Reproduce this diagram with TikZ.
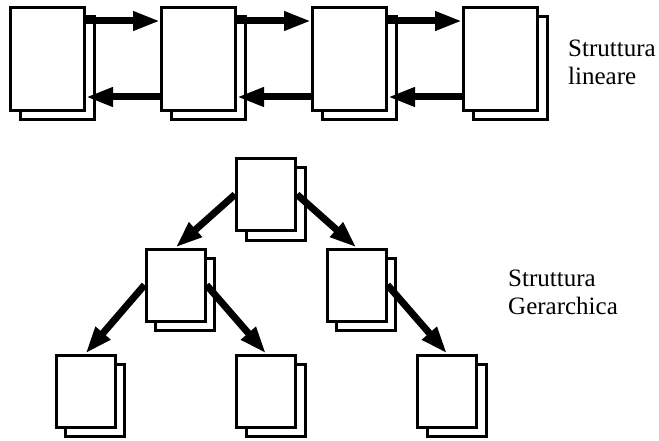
\documentclass[tikz,border=0pt]{standalone}
\usepackage{fontspec}
\setmainfont{Liberation Serif}
\usetikzlibrary{positioning, arrows.meta, shadows}

\begin{document}
\begin{tikzpicture}[x=1pt, y=1pt, on grid,
    page/.style={draw, line width=3pt, fill=white, inner sep=0pt,
        copy shadow={shadow xshift=9.5pt, shadow yshift=-9.5pt}},
    wide/.style={page, minimum width=74pt, minimum height=103pt},
    small/.style={page, minimum width=59pt, minimum height=72pt},
    link/.style={line width=7pt, -{Triangle[length=27pt, width=18pt]}},
    caption/.style={font=\fontsize{25}{28}\selectfont, align=left, inner sep=0pt}]
    \useasboundingbox (0,0) rectangle (659,440);

    % struttura lineare
    \node[wide] (l1) at (47.5,381) {};
    \node[wide] (l2) [right=151pt of l1] {};
    \node[wide] (l3) [right=151pt of l2] {};
    \node[wide] (l4) [right=151pt of l3] {};

    % struttura gerarchica
    \node[small] (root) at (266,245.5) {};
    \node[small] (a) [below left=90.5pt and 90.5pt of root] {};
    \node[small] (b) [below right=90.5pt and 90.5pt of root] {};
    \node[small] (aa) [below left=106pt and 90pt of a] {};
    \node[small] (ab) [below right=106pt and 90.5pt of a] {};
    \node[small] (ba) [below right=106pt and 90.5pt of b] {};

    % base = last line
    \node[caption, anchor=base west] (lin) at (568,355) {Struttura\\lineare};
    \node[caption, anchor=base west] (ger) at (508,126) {Struttura\\Gerarchica};

    \path[link]
    ([yshift=38pt]l1.east) edge ([yshift=38pt]l2.west)
        ([yshift=-38pt]l2.west) edge ([yshift=-38pt]l1.east)
    ([yshift=38pt]l2.east) edge ([yshift=38pt]l3.west)
        ([yshift=-38pt]l3.west) edge ([yshift=-38pt]l2.east)
    ([yshift=38pt]l3.east) edge ([yshift=38pt]l4.west)
        ([yshift=-38pt]l4.west) edge ([yshift=-38pt]l3.east)
    (root.west) edge (a.north)
        (root.east) edge (b.north)
    (a.west) edge (aa.north)
        (a.east) edge (ab.north)
    (b.east) edge (ba.north);
\end{tikzpicture}
\end{document}
